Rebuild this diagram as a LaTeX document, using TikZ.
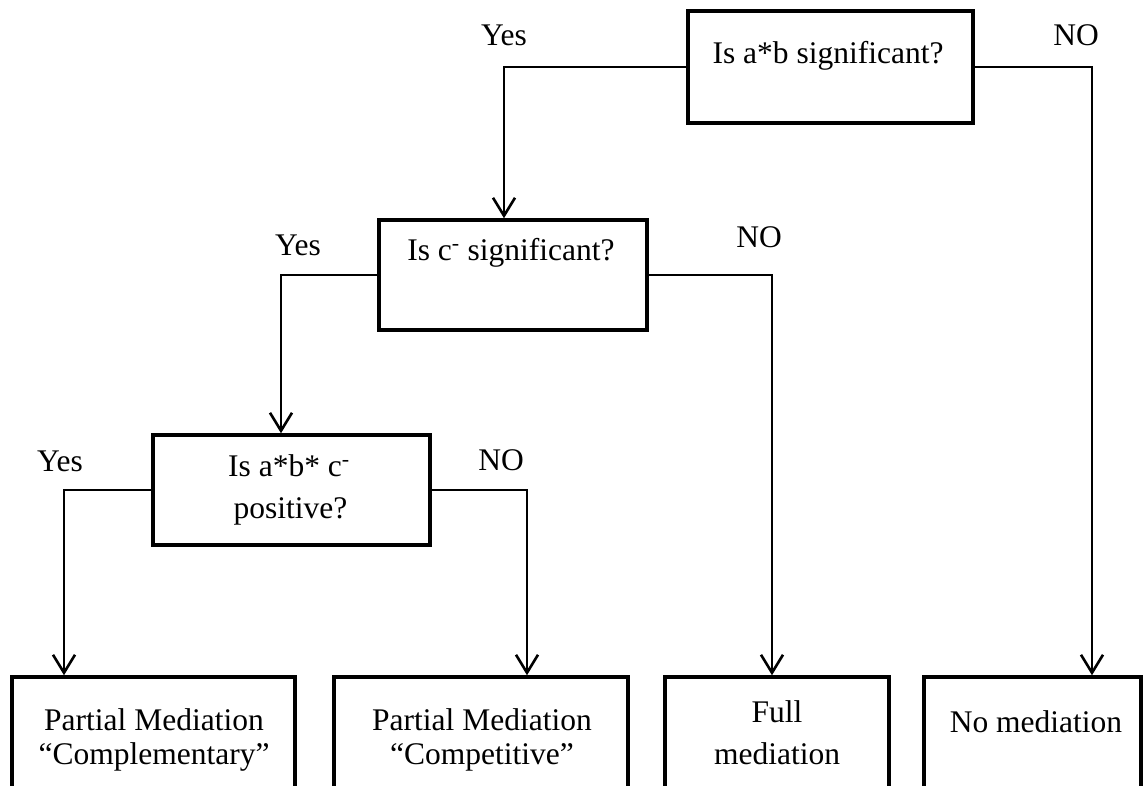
\documentclass[tikz,border=0pt]{standalone}
\usepackage{fontspec}
\setmainfont{Liberation Serif}
\usetikzlibrary{arrows.meta}
\begin{document}
\begin{tikzpicture}[x=1pt,y=-1pt,
  font=\fontsize{31.5}{38}\selectfont,
  box/.style={draw, rectangle, line width=3.5pt, inner sep=0pt},
  txt/.style={inner sep=0pt, anchor=base},
  conn/.style={line width=2.6pt, -{Straight Barb[length=18pt,width=22pt]}}]
  \useasboundingbox (0,0) rectangle (1143,785);
  \clip (0,0) rectangle (1143,785);

  % decision boxes
  \node[box, minimum width=285pt, minimum height=112pt] (qA) at (830.5,67) {};
  \node[box, minimum width=268pt, minimum height=110pt] (qB) at (513,275) {};
  \node[box, minimum width=277pt, minimum height=110pt] (qC) at (291.5,490) {};

  % outcome boxes (running off the lower edge)
  \node[box, minimum width=283pt, minimum height=160pt] (rComp)   at (153.5,757) {};
  \node[box, minimum width=294pt, minimum height=160pt] (rCompet) at (481,757) {};
  \node[box, minimum width=224pt, minimum height=160pt] (rFull)   at (777,757) {};
  \node[box, minimum width=217pt, minimum height=160pt] (rNo)     at (1032.5,757) {};

  % box texts
  \node[txt] (tA)  at (828,63)  {Is a*b significant?};
  \node[txt] (tB)  at (511,260) {Is c\textsuperscript{-} significant?};
  \node[txt] (tC1) at (289,476) {Is a*b* c\textsuperscript{-}};
  \node[txt] (tC2) at (290.5,518) {positive?};
  \node[txt] (tP1a) at (154,730) {Partial Mediation};
  \node[txt] (tP1b) at (154,764) {“Complementary”};
  \node[txt] (tP2a) at (482,730) {Partial Mediation};
  \node[txt] (tP2b) at (482,764) {“Competitive”};
  \node[txt] (tF1) at (777,722) {Full};
  \node[txt] (tF2) at (777,764) {mediation};
  \node[txt] (tN)  at (1036,732) {No mediation};

  % branch labels
  \node[txt] (yA) at (504,45)  {Yes};
  \node[txt] (nA) at (1076,45) {NO};
  \node[txt] (yB) at (298,255) {Yes};
  \node[txt] (nB) at (759,247) {NO};
  \node[txt] (yC) at (60,471)  {Yes};
  \node[txt] (nC) at (501,470) {NO};

  % connectors
  \draw[conn] (qA.west) -| ([xshift=-9pt]qB.north);
  \draw[conn] (qA.east) -| ([xshift=59.5pt]rNo.north);
  \draw[conn] (qB.west) -| ([xshift=-10.5pt]qC.north);
  \draw[conn] (qB.east) -| ([xshift=-5pt]rFull.north);
  \draw[conn] (qC.west) -| ([xshift=-89.5pt]rComp.north);
  \draw[conn] (qC.east) -| ([xshift=46pt]rCompet.north);
\end{tikzpicture}
\end{document}
